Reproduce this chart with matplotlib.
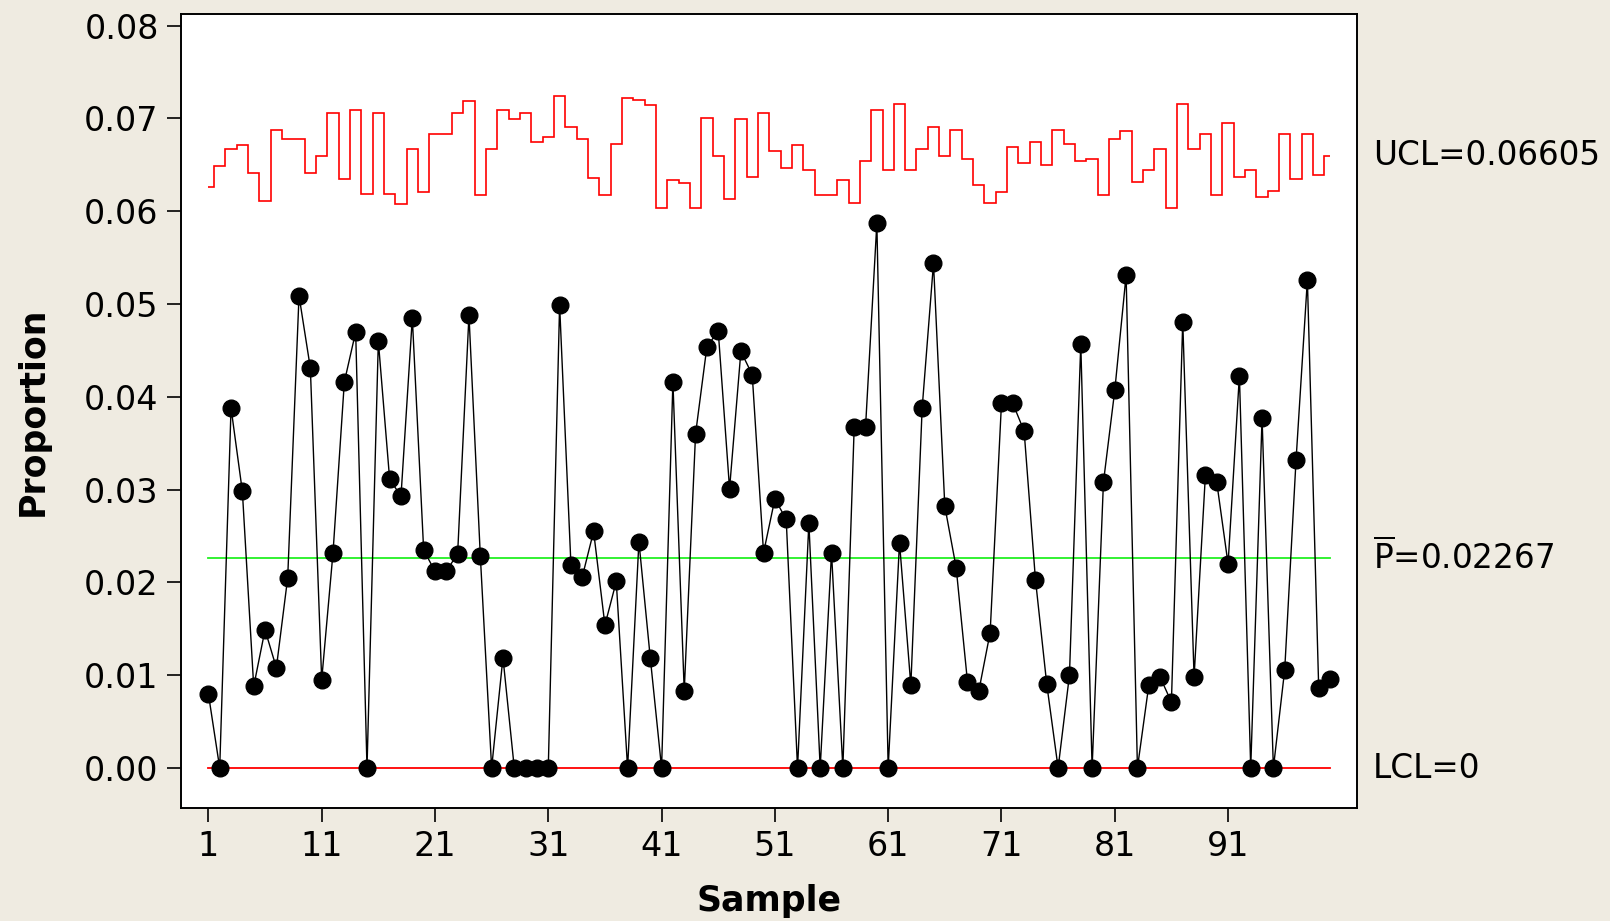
import numpy as np
import matplotlib
matplotlib.use("Agg")
import matplotlib.pyplot as plt
import matplotlib.transforms as mtransforms

plt.rcParams['font.family'] = ['DejaVu Sans']
plt.rcParams['mathtext.fontset'] = 'dejavusans'

samples = list(range(1, 101))
proportion = [
    0.0080, 0.0000, 0.0388, 0.0298, 0.0088, 0.0149, 0.0108, 0.0205, 0.0509, 0.0431,
    0.0095, 0.0232, 0.0416, 0.0470, 0.0000, 0.0460, 0.0311, 0.0293, 0.0485, 0.0235,
    0.0212, 0.0212, 0.0231, 0.0488, 0.0229, 0.0000, 0.0119, 0.0000, 0.0000, 0.0000,
    0.0000, 0.0499, 0.0219, 0.0206, 0.0255, 0.0154, 0.0201, 0.0000, 0.0244, 0.0119,
    0.0000, 0.0416, 0.0083, 0.0360, 0.0454, 0.0471, 0.0301, 0.0449, 0.0424, 0.0232,
    0.0290, 0.0268, 0.0000, 0.0264, 0.0000, 0.0232, 0.0000, 0.0367, 0.0367, 0.0587,
    0.0000, 0.0243, 0.0089, 0.0388, 0.0544, 0.0282, 0.0216, 0.0093, 0.0083, 0.0146,
    0.0393, 0.0393, 0.0363, 0.0203, 0.0090, 0.0000, 0.0100, 0.0457, 0.0000, 0.0308,
    0.0407, 0.0531, 0.0000, 0.0089, 0.0098, 0.0071, 0.0481, 0.0098, 0.0316, 0.0308,
    0.0220, 0.0423, 0.0000, 0.0377, 0.0000, 0.0106, 0.0332, 0.0526, 0.0086, 0.0096,
]
ucl = [
    0.0626, 0.0649, 0.0667, 0.0671, 0.0641, 0.0611, 0.0688, 0.0678, 0.0678, 0.0641,
    0.0660, 0.0706, 0.0635, 0.0709, 0.0619, 0.0706, 0.0619, 0.0608, 0.0667, 0.0621,
    0.0683, 0.0683, 0.0706, 0.0719, 0.0617, 0.0667, 0.0709, 0.0699, 0.0706, 0.0675,
    0.0680, 0.0724, 0.0691, 0.0678, 0.0636, 0.0617, 0.0673, 0.0722, 0.0720, 0.0714,
    0.0604, 0.0634, 0.0630, 0.0604, 0.0700, 0.0660, 0.0613, 0.0699, 0.0637, 0.0706,
    0.0665, 0.0647, 0.0671, 0.0645, 0.0617, 0.0617, 0.0634, 0.0609, 0.0654, 0.0709,
    0.0645, 0.0716, 0.0645, 0.0667, 0.0691, 0.0660, 0.0688, 0.0656, 0.0628, 0.0609,
    0.0621, 0.0669, 0.0652, 0.0675, 0.0650, 0.0688, 0.0673, 0.0654, 0.0656, 0.0617,
    0.0678, 0.0686, 0.0632, 0.0645, 0.0667, 0.0604, 0.0716, 0.0667, 0.0683, 0.0617,
    0.0695, 0.0637, 0.0645, 0.0615, 0.0622, 0.0683, 0.0635, 0.0683, 0.0639, 0.0660,
]
pbar = 0.02267
lcl = 0.0
ucl_label = "UCL=0.06605"
pbar_label = r"$\overline{\mathrm{P}}$=0.02267"
lcl_label = "LCL=0"
xticks = [1, 11, 21, 31, 41, 51, 61, 71, 81, 91]
yticks = [0.00, 0.01, 0.02, 0.03, 0.04, 0.05, 0.06, 0.07, 0.08]

bg = '#EFEBE1'
fig = plt.figure(figsize=(16.10, 9.21), dpi=100, facecolor=bg)
ax = fig.add_axes([0.1124, 0.1227, 0.7306, 0.8617])
ax.set_facecolor('white')

edges = np.concatenate(([samples[0]], np.array(samples[:-1]) + 0.5, [samples[-1]]))
ax.stairs(ucl, edges, baseline=None, color='#FF0000', lw=1.2, zorder=2)
ax.plot([samples[0], samples[-1]], [pbar, pbar], color='#22F022', lw=1.3, zorder=2)
ax.plot([samples[0], samples[-1]], [lcl, lcl], color='#FF0000', lw=1.3, zorder=2)
ax.plot(samples, proportion, color='black', lw=1.0, marker='o', markersize=12,
        markerfacecolor='black', markeredgecolor='black', zorder=3)

ax.set_xlim(-1.42, 102.4)
ax.set_ylim(-0.00431, 0.08122)
ax.set_xticks(xticks)
ax.set_yticks(yticks)
ax.set_yticklabels([f"{v:.2f}" for v in yticks])
ax.tick_params(axis='both', direction='out', length=10, width=1.2, labelsize=24, color='black')
ax.tick_params(axis='x', pad=6)
ax.tick_params(axis='y', pad=6)
for s in ax.spines.values():
    s.set_linewidth(1.4)
    s.set_color('black')

ax.set_xlabel("Sample", fontsize=25, fontweight='bold', labelpad=15)
ax.set_ylabel("Proportion", fontsize=25, fontweight='bold', labelpad=25)

trans = mtransforms.blended_transform_factory(ax.transAxes, ax.transData)
xl = 1.0136
ax.text(xl, 0.06605, ucl_label, transform=trans, fontsize=23.5, va='center', ha='left')
ax.text(xl, pbar, pbar_label, transform=trans, fontsize=23.5, va='center', ha='left')
ax.text(xl, lcl, lcl_label, transform=trans, fontsize=23.5, va='center', ha='left')

fig.savefig("out.png", dpi=100, facecolor=bg)
